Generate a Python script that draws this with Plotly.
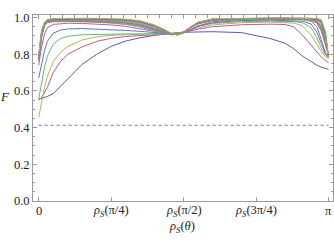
import numpy as np
import plotly.graph_objects as go

# sample positions along the x axis, as fractions of pi
theta_frac = [0, 0.005, 0.01, 0.02, 0.03, 0.05, 0.075, 0.1, 0.15, 0.2, 0.25, 0.3, 0.35, 0.4,
              0.43, 0.46, 0.48, 0.5, 0.52, 0.55, 0.6, 0.7, 0.8, 0.85, 0.88, 0.91, 0.94, 0.96,
              0.975, 0.99, 1.0]

F1 = [0.555, 0.557, 0.56, 0.565, 0.57, 0.585, 0.625, 0.665, 0.745, 0.80, 0.843, 0.872, 0.89, 0.903,
      0.91, 0.915, 0.918, 0.92, 0.921, 0.922, 0.923, 0.918, 0.885, 0.86, 0.83, 0.79, 0.758, 0.74,
      0.73, 0.722, 0.718]
F2 = [0.55, 0.555, 0.565, 0.59, 0.62, 0.70, 0.76, 0.80, 0.84, 0.87, 0.887, 0.897, 0.903, 0.907,
      0.909, 0.911, 0.914, 0.919, 0.926, 0.937, 0.95, 0.961, 0.964, 0.962, 0.95, 0.905, 0.85, 0.81,
      0.785, 0.765, 0.755]
F3 = [0.455, 0.5, 0.545, 0.62, 0.68, 0.76, 0.81, 0.842, 0.878, 0.895, 0.903, 0.907, 0.909, 0.91,
      0.911, 0.912, 0.915, 0.92, 0.93, 0.945, 0.96, 0.972, 0.975, 0.974, 0.97, 0.955, 0.905, 0.855,
      0.815, 0.785, 0.77]
F4 = [0.555, 0.6, 0.645, 0.73, 0.79, 0.855, 0.885, 0.898, 0.906, 0.909, 0.91, 0.911, 0.911, 0.911,
      0.911, 0.912, 0.915, 0.922, 0.935, 0.953, 0.968, 0.978, 0.98, 0.98, 0.978, 0.972, 0.945, 0.89,
      0.835, 0.795, 0.78]
F5 = [0.67, 0.71, 0.75, 0.82, 0.87, 0.915, 0.932, 0.938, 0.94, 0.938, 0.935, 0.93, 0.925, 0.918,
      0.914, 0.911, 0.912, 0.918, 0.93, 0.952, 0.972, 0.984, 0.986, 0.985, 0.984, 0.98, 0.965, 0.92,
      0.86, 0.80, 0.785]
F6 = [0.74, 0.79, 0.84, 0.91, 0.945, 0.963, 0.968, 0.969, 0.968, 0.965, 0.96, 0.952, 0.94, 0.925,
      0.915, 0.908, 0.909, 0.916, 0.93, 0.955, 0.977, 0.989, 0.99, 0.99, 0.99, 0.988, 0.98, 0.95,
      0.88, 0.805, 0.785]
F7 = [.760, .830, .890, .955, .972, .977, .978, .978, .977, .975, .970, .962, .948, .928, .915, .906,
      .909, .922, .942, .965, .984, .990, .991, .991, .991, .990, .985, .970, .925, .845, .795]
F8 = [.764, .835, .894, .957, .974, .979, .980, .980, .979, .977, .973, .965, .952, .932, .918, .907,
      .909, .922, .942, .966, .985, .991, .992, .992, .992, .991, .986, .973, .932, .853, .793]
F9 = [.768, .840, .899, .959, .976, .981, .982, .982, .981, .980, .976, .969, .956, .935, .920, .907,
      .908, .921, .943, .967, .986, .992, .993, .993, .993, .992, .988, .976, .939, .862, .792]
F10 = [.772, .845, .903, .962, .978, .983, .984, .984, .983, .982, .978, .972, .960, .939, .923, .908,
       .908, .921, .943, .968, .987, .992, .993, .993, .993, .993, .989, .978, .947, .870, .790]
F11 = [.776, .850, .908, .964, .980, .985, .986, .986, .985, .984, .981, .975, .964, .942, .925, .909,
       .907, .920, .943, .969, .988, .993, .994, .994, .994, .994, .990, .981, .954, .878, .788]
F12 = [.780, .855, .912, .966, .982, .987, .988, .988, .988, .987, .984, .979, .967, .946, .928, .909,
       .907, .920, .944, .971, .989, .994, .995, .995, .995, .994, .992, .984, .961, .887, .787]
F13 = [.784, .860, .917, .968, .984, .989, .990, .990, .990, .989, .987, .982, .971, .949, .930, .910,
       .906, .919, .944, .972, .990, .995, .996, .996, .996, .995, .993, .987, .968, .895, .785]
F14 = [.788, .865, .921, .971, .986, .991, .992, .992, .992, .991, .989, .985, .975, .953, .933, .911,
       .906, .919, .944, .973, .991, .995, .996, .996, .996, .996, .994, .989, .976, .903, .783]
F15 = [.792, .870, .926, .973, .988, .993, .994, .994, .994, .994, .992, .989, .979, .956, .935, .911,
       .905, .918, .945, .974, .992, .996, .997, .997, .997, .997, .996, .992, .983, .912, .782]
F16 = [.796, .875, .930, .975, .990, .995, .996, .996, .996, .996, .995, .992, .983, .960, .938, .912,
       .905, .918, .945, .975, .993, .997, .998, .998, .998, .998, .997, .995, .990, .920, .780]

series = [F1, F2, F3, F4, F5, F6, F7, F8, F9, F10, F11, F12, F13, F14, F15, F16]

# horizontal dashed reference level
dashed_level = 0.413
dashed_x_frac = [0, 1.0]

# tick labels
x_tick_frac = [0, 0.25, 0.5, 0.75, 1.0]
x_tick_text = ["0",
               "<i>ρ</i><sub><i>S</i></sub>(π/4)",
               "<i>ρ</i><sub><i>S</i></sub>(π/2)",
               "<i>ρ</i><sub><i>S</i></sub>(3π/4)",
               "π"]
y_tick_vals = [0.0, 0.2, 0.4, 0.6, 0.8, 1.0]
y_tick_text = ["0.0", "0.2", "0.4", "0.6", "0.8", "1.0"]

colors = ["#5959bf", "#bf5993", "#bfb059", "#59bf74", "#5978bf", "#bf59b3", "#bf9159", "#5cbf59",
          "#5996bf", "#ac59bf", "#bf7359", "#7bbf59", "#59b5bf", "#8e59bf", "#bf595e", "#9abf59"]

FONT = "Liberation Serif"
x = np.array(theta_frac) * np.pi

fig = go.Figure()
for k, ys in enumerate(series):
    fig.add_trace(go.Scatter(x=x, y=ys, mode="lines",
                             line=dict(color=colors[k % len(colors)], width=1),
                             showlegend=False, hoverinfo="skip"))

fig.add_trace(go.Scatter(x=np.array(dashed_x_frac) * np.pi, y=[dashed_level] * len(dashed_x_frac),
                         mode="lines", line=dict(color="#6a6ac8", width=1, dash="3px,3px"),
                         showlegend=False, hoverinfo="skip"))

xr = [-0.0618, np.pi + 0.0488]
axis_col = "#9a9a9a"
tickfont = dict(family=FONT, size=12.5, color="#222")

annotations = []
for v, t in zip(x_tick_frac, x_tick_text):
    annotations.append(dict(text=t, xref="x", yref="paper", x=v * np.pi, y=-0.056,
                            xanchor="center", yanchor="middle", showarrow=False,
                            font=tickfont))
annotations.append(dict(text="<i>F</i>", xref="paper", yref="paper", x=-0.093, y=0.56,
                        xanchor="center", yanchor="middle", showarrow=False,
                        font=dict(family=FONT, size=13, color="#222")))
annotations.append(dict(text="<i>ρ</i><sub><i>S</i></sub>(<i>θ</i>)", xref="paper", yref="paper",
                        x=0.497, y=-0.142, xanchor="center", yanchor="middle", showarrow=False,
                        font=dict(family=FONT, size=12.5, color="#222")))

fig.update_layout(
    width=334, height=250,
    margin=dict(l=33, r=1, t=15, b=49, autoexpand=False),
    paper_bgcolor="white", plot_bgcolor="white",
    xaxis=dict(range=xr, tickvals=[v * np.pi for v in x_tick_frac], showticklabels=False,
               ticks="inside", ticklen=4, tickcolor=axis_col, showline=True, linecolor=axis_col,
               linewidth=1, mirror="ticks", showgrid=False, zeroline=False, automargin=False),
    xaxis2=dict(range=xr, overlaying="x", side="top", anchor="y",
                tickvals=[i * np.pi / 24 for i in range(25)], ticks="inside", ticklen=2.5,
                tickcolor=axis_col, showticklabels=False, showline=False, showgrid=False,
                zeroline=False, automargin=False),
    yaxis=dict(range=[0, 1.014], tickvals=y_tick_vals, ticktext=y_tick_text,
               ticks="inside", ticklen=4, tickcolor=axis_col, showline=True, linecolor=axis_col,
               linewidth=1, mirror="ticks", showgrid=False, zeroline=False, tickfont=tickfont,
               automargin=False,
               minor=dict(dtick=0.05, ticks="inside", ticklen=2, tickcolor=axis_col, showgrid=False)),
    annotations=annotations,
)
# invisible trace so the top axis is drawn
fig.add_trace(go.Scatter(x=[0], y=[0], xaxis="x2", mode="markers", marker=dict(opacity=0),
                         showlegend=False, hoverinfo="skip"))

fig.write_html("out.html", config={"displayModeBar": False},
               post_script="document.body.style.margin='0px';document.body.style.padding='0px';")
